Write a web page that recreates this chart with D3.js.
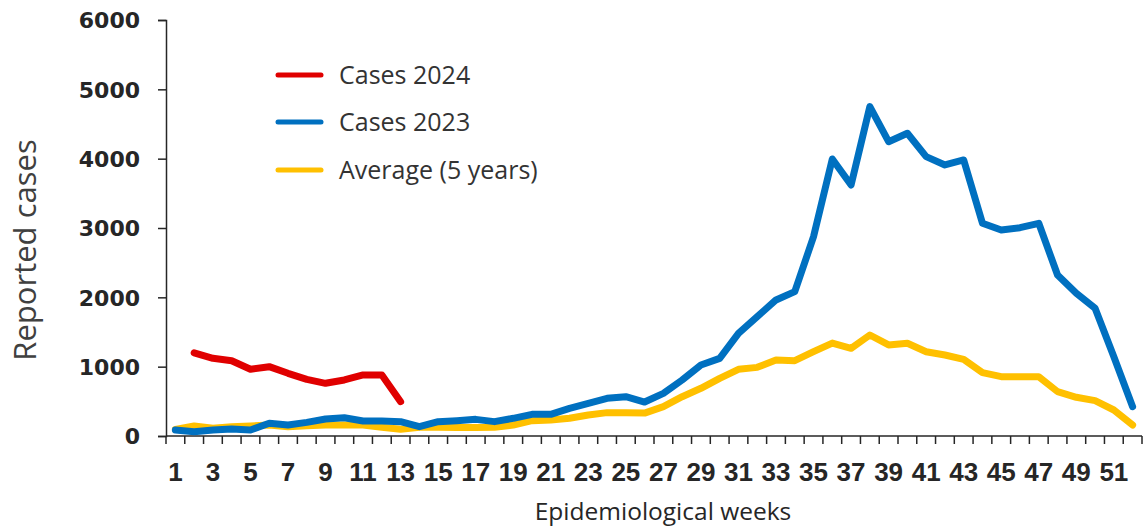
<!DOCTYPE html>
<html>
<head>
<meta charset="utf-8">
<script src="https://cdn.jsdelivr.net/npm/d3@7"></script>
<style>
  html, body { margin: 0; padding: 0; background: #fff; }
  svg { display: block; }
</style>
</head>
<body>
<svg id="chart" width="1143" height="529"></svg>
<script>
const weeks = d3.range(1, 53);
const yTicks = [0, 1000, 2000, 3000, 4000, 5000, 6000];
const xTickLabels = weeks.filter(w => w % 2 === 1);

const cases2024Weeks = [2, 3, 4, 5, 6, 7, 8, 9, 10, 11, 12, 13];
const cases2024 = [1200, 1120, 1086, 962, 1000, 904, 817, 760, 808, 880, 880, 495];

const cases2023 = [
  87, 62, 87, 100, 87, 183, 159, 197, 245, 264,
  216, 216, 207, 134, 207, 221, 240, 207, 255, 313,
  313, 399, 471, 543, 567, 490, 615, 808, 1024, 1120,
  1481, 1721, 1962, 2082, 2875, 3995, 3620, 4750, 4245, 4366,
  4029, 3909, 3981, 3068, 2971, 3005, 3068, 2322, 2058, 1842,
  1144, 423
];

const average5y = [
  96, 144, 111, 134, 144, 159, 134, 149, 159, 159,
  159, 125, 96, 125, 125, 123, 123, 125, 159, 221,
  231, 255, 303, 337, 337, 330, 423, 567, 688, 832,
  962, 990, 1096, 1086, 1216, 1340, 1265, 1457, 1313, 1337,
  1216, 1168, 1106, 913, 856, 856, 856, 640, 558, 510,
  375, 159
];

const seriesNames = ["Cases 2024", "Cases 2023", "Average (5 years)"];
const seriesColors = ["#E00000", "#0070C0", "#FFC000"];

const svg = d3.select("#chart");
const mLeft = 166, mRight = 1142, mTop = 20, mBottom = 436;

const x = d3.scaleBand().domain(weeks).range([mLeft, mRight]).paddingInner(0).paddingOuter(0);
const y = d3.scaleLinear().domain([0, 6000]).range([mBottom, mTop]);
const cx = w => x(w) + x.bandwidth() / 2;

// Y axis
const yAxis = d3.axisLeft(y).tickValues(yTicks).tickSize(8).tickPadding(0).tickFormat(d3.format("d"));
const yG = svg.append("g").attr("transform", `translate(${mLeft},0)`).call(yAxis);
yG.select(".domain").attr("stroke", "#262626").attr("stroke-width", 1.5);
yG.selectAll(".tick line").attr("stroke", "#262626").attr("stroke-width", 1.5);
yG.selectAll(".tick text")
  .attr("x", -26)
  .attr("dy", "0.36em")
  .attr("fill", "#262626")
  .style("font-family", "'DejaVu Sans', sans-serif")
  .style("font-weight", "bold")
  .style("font-size", "22px");

// X axis: band boundaries as tick marks
const xAxisG = svg.append("g");
xAxisG.append("line")
  .attr("x1", mLeft).attr("x2", mRight).attr("y1", mBottom).attr("y2", mBottom)
  .attr("stroke", "#262626").attr("stroke-width", 1.5);
const boundaries = weeks.map(w => x(w)).concat([x(52) + x.bandwidth()]);
xAxisG.selectAll("line.tk").data(boundaries).enter().append("line")
  .attr("class", "tk")
  .attr("x1", d => d).attr("x2", d => d)
  .attr("y1", mBottom).attr("y2", mBottom + 8)
  .attr("stroke", "#262626").attr("stroke-width", 1.5);
xAxisG.selectAll("text").data(xTickLabels).enter().append("text")
  .attr("x", d => cx(d))
  .attr("y", 481)
  .attr("text-anchor", "middle")
  .attr("fill", "#262626")
  .style("font-family", "'Liberation Sans Narrow', 'Arial Narrow', 'Liberation Sans', sans-serif")
  .style("font-weight", "bold")
  .style("font-size", "26px")
  .text(d => d);

// Axis titles
svg.append("text")
  .attr("transform", "translate(36,250) rotate(-90)")
  .attr("text-anchor", "middle")
  .attr("fill", "#404040")
  .style("font-family", "'Open Sans', sans-serif")
  .style("font-size", "31px")
  .text("Reported cases");

svg.append("text")
  .attr("x", 663).attr("y", 520)
  .attr("text-anchor", "middle")
  .attr("fill", "#262626")
  .style("font-family", "'Open Sans', sans-serif")
  .style("font-size", "24.5px")
  .text("Epidemiological weeks");

// Lines
const line = d3.line().x(d => cx(d[0])).y(d => y(d[1])).curve(d3.curveLinear);
const dataAvg = weeks.map((w, i) => [w, average5y[i]]);
const data2023 = weeks.map((w, i) => [w, cases2023[i]]);
const data2024 = cases2024Weeks.map((w, i) => [w, cases2024[i]]);

[[dataAvg, seriesColors[2]], [data2023, seriesColors[1]], [data2024, seriesColors[0]]].forEach(([d, c]) => {
  svg.append("path")
    .datum(d)
    .attr("d", line)
    .attr("fill", "none")
    .attr("stroke", c)
    .attr("stroke-width", 7)
    .attr("stroke-linejoin", "round")
    .attr("stroke-linecap", "round");
});

// Legend
const legendY = [75, 122, 170];
const lg = svg.append("g");
seriesNames.forEach((name, i) => {
  lg.append("line")
    .attr("x1", 278).attr("x2", 321)
    .attr("y1", legendY[i]).attr("y2", legendY[i])
    .attr("stroke", seriesColors[i]).attr("stroke-width", 5)
    .attr("stroke-linecap", "round");
  lg.append("text")
    .attr("x", 339).attr("y", legendY[i])
    .attr("dy", "0.36em")
    .attr("fill", "#333")
    .style("font-family", "'Open Sans', sans-serif")
    .style("font-size", "25px")
    .text(name);
});
</script>
</body>
</html>
